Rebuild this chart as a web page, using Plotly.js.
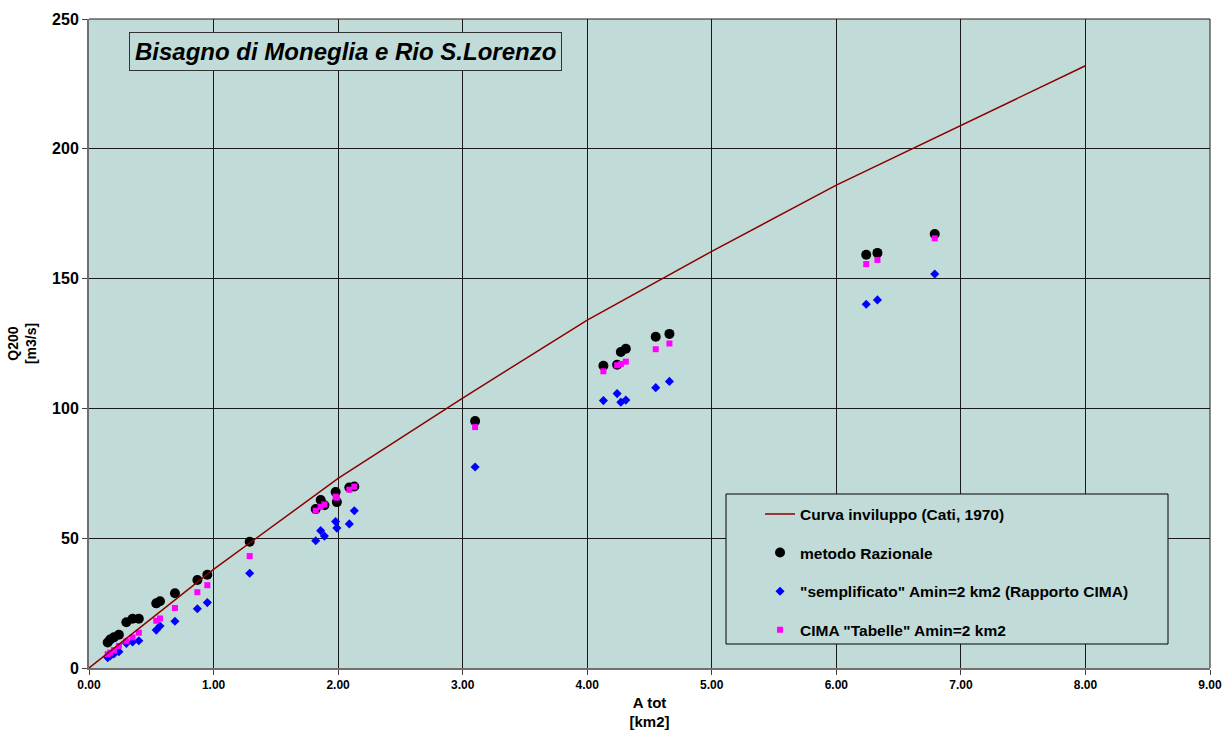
<!DOCTYPE html>
<html>
<head>
<meta charset="utf-8">
<script src="https://cdn.plot.ly/plotly-3.0.1.min.js"></script>
<style>html,body{margin:0;padding:0;background:#fff;}#chart{width:1225px;height:733px;}</style>
</head>
<body>
<div id="chart"></div>
<script>
// Basin areas A tot [km2]
const areaKm2 = [0.15, 0.17, 0.20, 0.24, 0.30, 0.35, 0.40, 0.54, 0.57, 0.69, 0.87, 0.95, 1.29,
  1.82, 1.86, 1.89, 1.98, 1.99, 2.09, 2.13, 3.10,
  4.13, 4.24, 4.27, 4.31, 4.55, 4.66, 6.24, 6.33, 6.79];
// metodo Razionale
const qRazionale = [9.8, 11.0, 11.8, 12.8, 17.6, 19.0, 19.0, 24.9, 25.7, 28.8, 33.9, 35.9, 48.6,
  61.2, 64.7, 62.7, 67.8, 63.9, 69.5, 69.9, 95.1,
  116.4, 116.8, 121.7, 123.0, 127.6, 128.7, 159.2, 159.9, 167.2];
// "semplificato" Amin=2 km2 (Rapporto CIMA)
const qSemplificato = [4.0, 4.6, 5.4, 6.3, 9.5, 10.0, 10.5, 14.6, 16.2, 18.0, 22.8, 25.2, 36.5,
  49.0, 52.9, 50.8, 56.4, 53.9, 55.5, 60.6, 77.4,
  103.0, 105.7, 102.4, 103.2, 108.0, 110.4, 140.1, 141.8, 151.8];
// CIMA "Tabelle" Amin=2 km2
const qTabelle = [5.3, 5.9, 6.9, 8.5, 10.3, 11.8, 13.6, 18.2, 19.1, 23.1, 29.2, 31.9, 43.1,
  60.6, 62.1, 63.0, 66.0, 65.6, 68.7, 69.9, 92.8,
  114.3, 116.6, 117.1, 118.0, 122.8, 125.0, 155.6, 157.2, 165.5];
// Curva inviluppo (Cati, 1970)
const envArea = [0, 1, 2, 3, 4, 5, 6, 7, 8];
const envQ = [0, 38, 73, 104, 134, 160.5, 186, 209, 232];

const xTicks = [0, 1, 2, 3, 4, 5, 6, 7, 8, 9];
const xTickLabels = ['0.00', '1.00', '2.00', '3.00', '4.00', '5.00', '6.00', '7.00', '8.00', '9.00'];
const yTicks = [0, 50, 100, 150, 200, 250];
const yTickLabels = ['0', '50', '100', '150', '200', '250'];

const FONT = 'Arial, "Liberation Sans", sans-serif';
const BG = '#C1DCD8';
const b = s => '<b>' + s + '</b>';

const traces = [
  {x: areaKm2, y: qRazionale, mode: 'markers', type: 'scatter', name: b('metodo Razionale'),
   legendgroup: 'b', legendrank: 2,
   marker: {symbol: 'circle', size: 10, color: '#000000'}},
  {x: areaKm2, y: qSemplificato, mode: 'markers', type: 'scatter', name: b('"semplificato" Amin=2 km2 (Rapporto CIMA)'),
   legendgroup: 'c', legendrank: 3,
   marker: {symbol: 'diamond', size: 7, color: '#0000FF'}},
  {x: areaKm2, y: qTabelle, mode: 'markers', type: 'scatter', name: b('CIMA "Tabelle" Amin=2 km2'),
   legendgroup: 'd', legendrank: 4,
   marker: {symbol: 'square', size: 6, color: '#FF00FF'}},
  {x: envArea, y: envQ, mode: 'lines', type: 'scatter', name: b('Curva inviluppo (Cati, 1970)'),
   legendgroup: 'a', legendrank: 1,
   line: {color: '#8B0000', width: 1.5}}
];

const layout = {
  width: 1225, height: 733,
  margin: {l: 89, r: 15, t: 19, b: 65},
  paper_bgcolor: '#FFFFFF',
  plot_bgcolor: BG,
  font: {family: FONT, color: '#000'},
  showlegend: true,
  legend: {
    x: 0.5986, y: 0.263, xanchor: 'left', yanchor: 'top',
    bgcolor: 'rgba(0,0,0,0)', borderwidth: 0,
    font: {family: FONT, size: 15.5, color: '#000'},
    tracegroupgap: 15.5, traceorder: 'grouped'
  },
  xaxis: {
    range: [0, 9], tickvals: xTicks, ticktext: xTickLabels.map(b),
    showgrid: true, gridcolor: '#1a1a1a', gridwidth: 1,
    zeroline: false, showline: true, linecolor: '#707070', linewidth: 2,
    ticks: 'outside', ticklen: 5, tickcolor: '#404040',
    tickfont: {family: FONT, size: 12},
    title: {text: b('A tot<br>[km2]'), font: {family: FONT, size: 15}, standoff: 6}
  },
  yaxis: {
    range: [0, 250], tickvals: yTicks, ticktext: yTickLabels.map(b),
    showgrid: true, gridcolor: '#1a1a1a', gridwidth: 1,
    zeroline: false, showline: true, linecolor: '#707070', linewidth: 2,
    ticks: 'outside', ticklen: 5, tickcolor: '#404040',
    tickfont: {family: FONT, size: 16},
    title: {text: b('Q200<br>[m3/s]'), font: {family: FONT, size: 14}, standoff: 12}
  },
  shapes: [
    {type: 'rect', xref: 'paper', yref: 'paper', x0: (726-89)/1121, x1: (1168-89)/1121,
     y0: (668-644)/649, y1: (668-494)/649, line: {color: '#000', width: 1}, fillcolor: BG, layer: 'above'},
    {type: 'line', xref: 'paper', yref: 'paper', x0: 0, x1: 1, y0: 1, y1: 1, line: {color: '#1a1a1a', width: 1}},
    {type: 'line', xref: 'paper', yref: 'paper', x0: 1, x1: 1, y0: 0, y1: 1, line: {color: '#1a1a1a', width: 1}}
  ],
  annotations: [
    {xref: 'paper', yref: 'paper', x: (345-89)/1121, y: (668-52)/649, xanchor: 'center', yanchor: 'middle',
     text: '<b><i>Bisagno di Moneglia e Rio S.Lorenzo</i></b>', showarrow: false,
     font: {family: FONT, size: 24, color: '#000'},
     bgcolor: BG, bordercolor: '#333', borderwidth: 1, borderpad: 5}
  ]
};

Plotly.newPlot('chart', traces, layout, {displayModeBar: false, staticPlot: true});
</script>
</body>
</html>
